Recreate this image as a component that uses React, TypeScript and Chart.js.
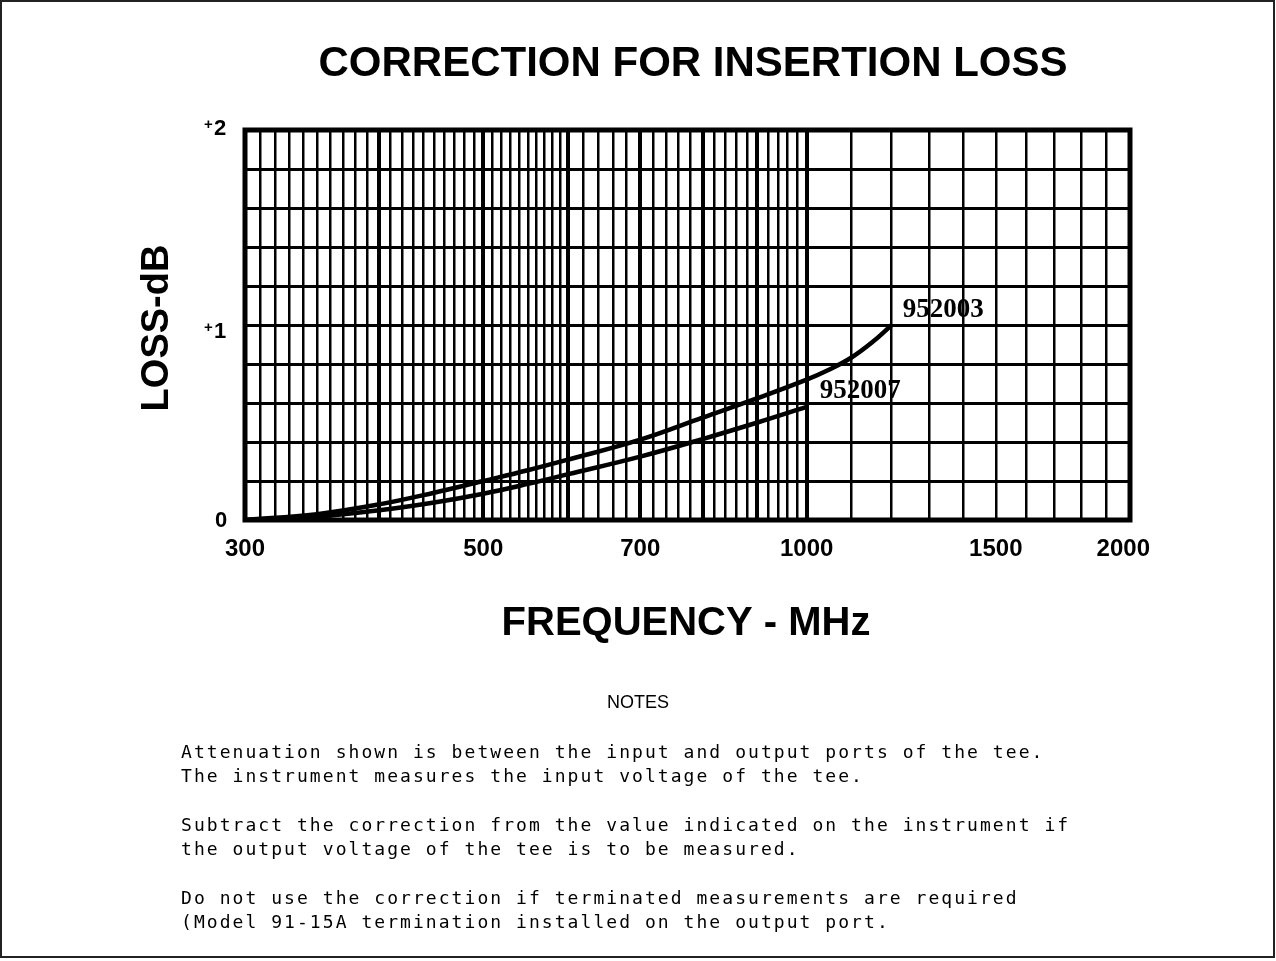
import React, { useEffect, useRef } from "react";
import { Chart, registerables } from "chart.js";

Chart.register(...registerables);

const TITLE = "CORRECTION FOR INSERTION LOSS";
const X_TITLE = "FREQUENCY - MHz";
const Y_TITLE = "LOSS-dB";

// Frequencies (MHz) and loss (dB)
const freq952003 = [300, 350, 400, 450, 500, 550, 600, 700, 800, 900, 1000, 1050, 1100, 1150, 1200];
const loss952003 = [0, 0.03, 0.08, 0.14, 0.2, 0.255, 0.31, 0.412, 0.525, 0.625, 0.72, 0.772, 0.832, 0.91, 1.0];
const freq952007 = [300, 350, 400, 450, 500, 550, 600, 700, 800, 900, 1000];
const loss952007 = [0, 0.018, 0.05, 0.09, 0.135, 0.185, 0.235, 0.325, 0.415, 0.5, 0.58];

const seriesNames = ["952003", "952007"];

// Tick labels
const xTickLabels = [300, 500, 700, 1000, 1500, 2000];
const yTickLabels = [0, 1, 2];

// Grid lines of the chart paper
const xGridFine = [300, 310, 320, 330, 340, 350, 360, 370, 380, 390, 400, 410, 420, 430, 440, 450, 460, 470, 480, 490, 500, 510, 520, 530, 540, 550, 560, 570, 580, 590, 600];
const xGridMedium = [620, 640, 660, 680, 700, 720, 740, 760, 780, 800, 820, 840, 860, 880, 900, 920, 940, 960, 980, 1000];
const xGridCoarse = [1100, 1200, 1300, 1400, 1500, 1600, 1700, 1800, 1900, 2000];
const xGridMajor = [400, 500, 600, 700, 800, 900, 1000];
const yGrid = [0, 0.2, 0.4, 0.6, 0.8, 1.0, 1.2, 1.4, 1.6, 1.8, 2.0];

const notes = [
  "Attenuation shown is between the input and output ports of the tee.",
  "The instrument measures the input voltage of the tee.",
  "",
  "Subtract the correction from the value indicated on the instrument if",
  "the output voltage of the tee is to be measured.",
  "",
  "Do not use the correction if terminated measurements are required",
  "(Model 91-15A termination installed on the output port.",
];

const SANS = '"Liberation Sans", Arial, Helvetica, sans-serif';

export default function App() {
  const ref = useRef<HTMLCanvasElement | null>(null);

  useEffect(() => {
    if (!ref.current) return;

    const decor = {
      id: "decor",
      afterDraw(chart: any) {
        const { ctx, chartArea: a } = chart;
        const xs = chart.scales.x;
        const ys = chart.scales.y;
        ctx.save();
        // plot border
        ctx.strokeStyle = "#000";
        ctx.lineWidth = 5;
        ctx.strokeRect(a.left, a.top, a.right - a.left, a.bottom - a.top);

        // page frame
        ctx.strokeStyle = "#222";
        ctx.lineWidth = 2;
        ctx.strokeRect(1, 1, 1273, 956);

        ctx.fillStyle = "#000";
        ctx.textAlign = "center";
        ctx.textBaseline = "middle";

        ctx.font = `bold 42px ${SANS}`;
        ctx.fillText(TITLE, 693, 64);

        ctx.font = `bold 24px ${SANS}`;
        xTickLabels.forEach((v) => {
          const px = xs.getPixelForValue(v);
          const w = ctx.measureText(String(v)).width;
          const cx = Math.min(Math.max(px, 242), 1150 - w / 2);
          ctx.fillText(String(v), cx, 549);
        });

        yTickLabels.forEach((v) => {
          const py = ys.getPixelForValue(v) + (v === 1 ? 7 : v === 2 ? -1 : 1);
          if (v === 0) {
            ctx.font = `bold 22px ${SANS}`;
            ctx.textAlign = "center";
            ctx.fillText("0", 221, py);
          } else {
            ctx.textAlign = "left";
            ctx.font = `bold 15px ${SANS}`;
            ctx.fillText("+", 204, py - 4);
            ctx.font = `bold 22px ${SANS}`;
            ctx.fillText(String(v), 214, py);
          }
        });
        ctx.textAlign = "center";

        ctx.font = `bold 40px ${SANS}`;
        ctx.fillText(X_TITLE, 686, 624);

        ctx.save();
        ctx.translate(158, 328);
        ctx.rotate(-Math.PI / 2);
        ctx.font = `bold 38px ${SANS}`;
        ctx.fillText(Y_TITLE, 0, 0);
        ctx.restore();

        ctx.font = `18px ${SANS}`;
        ctx.fillText("NOTES", 638, 703);

        ctx.textAlign = "left";
        ctx.textBaseline = "alphabetic";
        ctx.font = `18px "DejaVu Sans Mono", monospace`;
        (ctx as any).letterSpacing = "2.05px";
        let by = 758;
        notes.forEach((line) => {
          if (line === "") {
            by += 25;
          } else {
            ctx.fillText(line, 181, by);
            by += 24;
          }
        });
        (ctx as any).letterSpacing = "0px";

        // curve labels
        ctx.font = `bold 27px "Liberation Serif", "Times New Roman", serif`;
        ctx.textBaseline = "middle";
        const e1x = xs.getPixelForValue(freq952003[freq952003.length - 1]);
        const e1y = ys.getPixelForValue(loss952003[loss952003.length - 1]);
        ctx.fillText(seriesNames[0], e1x + 11, e1y - 15);
        const e2x = xs.getPixelForValue(freq952007[freq952007.length - 1]);
        const e2y = ys.getPixelForValue(loss952007[loss952007.length - 1]);
        ctx.fillText(seriesNames[1], e2x + 13, e2y - 16);

        ctx.restore();
      },
    };

    const majorSet = new Set(xGridMajor);

    const chart = new Chart(ref.current, {
      type: "line",
      data: {
        datasets: [
          {
            label: seriesNames[0],
            data: freq952003.map((f, i) => ({ x: f, y: loss952003[i] })),
            borderColor: "#000",
            borderWidth: 4.5,
            pointRadius: 0,
            tension: 0.4,
            fill: false,
          },
          {
            label: seriesNames[1],
            data: freq952007.map((f, i) => ({ x: f, y: loss952007[i] })),
            borderColor: "#000",
            borderWidth: 4.5,
            pointRadius: 0,
            tension: 0.4,
            fill: false,
          },
        ],
      },
      options: {
        animation: false,
        responsive: false,
        devicePixelRatio: 1,
        layout: { padding: { left: 245, top: 130, right: 146, bottom: 441 } },
        plugins: {
          legend: { display: false },
          tooltip: { enabled: false },
          title: { display: false },
        },
        scales: {
          x: {
            type: "logarithmic",
            min: 300,
            max: 2000,
            afterBuildTicks: (scale: any) => {
              scale.ticks = [...xGridFine, ...xGridMedium, ...xGridCoarse].map((v) => ({ value: v }));
            },
            ticks: { display: false },
            border: { display: false },
            grid: {
              color: "#000",
              drawTicks: false,
              lineWidth: (c: any) => (c.tick && majorSet.has(c.tick.value) ? 4 : 2.5),
            },
          },
          y: {
            type: "linear",
            min: 0,
            max: 2,
            afterBuildTicks: (scale: any) => {
              scale.ticks = yGrid.map((v) => ({ value: v }));
            },
            ticks: { display: false },
            border: { display: false },
            grid: { color: "#000", drawTicks: false, lineWidth: 3 },
          },
        },
      },
      plugins: [decor],
    } as any);

    return () => chart.destroy();
  }, []);

  return (
    <div style={{ position: "absolute", left: 0, top: 0, width: 1276, height: 961, background: "#fff" }}>
      <canvas ref={ref} width={1276} height={961} style={{ display: "block", width: 1276, height: 961 }} />
    </div>
  );
}
